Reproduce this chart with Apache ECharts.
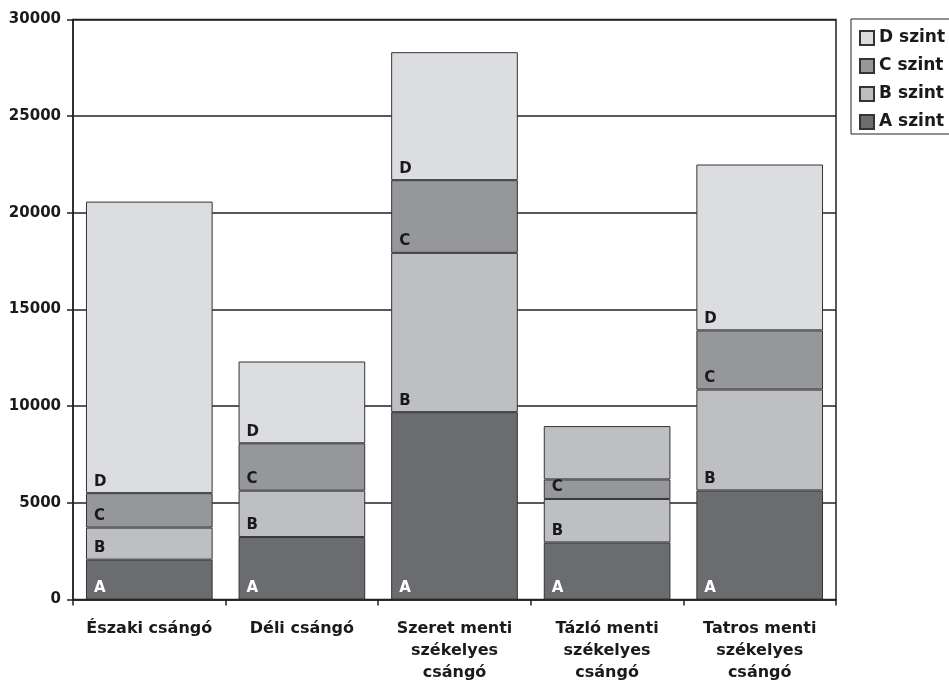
<!DOCTYPE html>
<html>
<head>
<meta charset="utf-8">
<script src="https://cdn.jsdelivr.net/npm/echarts@6/dist/echarts.min.js"></script>
<style>html,body{margin:0;padding:0;background:#fff;}#c{width:949px;height:681px;}</style>
</head>
<body>
<div id="c"></div>
<script>
const categories = ['Északi csángó', 'Déli csángó', 'Szeret menti\nszékelyes\ncsángó', 'Tázló menti\nszékelyes\ncsángó', 'Tatros menti\nszékelyes\ncsángó'];
const aValues = [2060, 3230, 9690, 2950, 5640];
const bValues = [1660, 2400, 8240, 2250, 5220];
const cValues = [1780, 2450, 3760, 1010, 3060];
const dValues = [15080, 4230, 6620, 2760, 8580];
const seriesNames = ['A szint', 'B szint', 'C szint', 'D szint'];
const segLabels = ['A', 'B', 'C', 'D'];
const yTicks = [0, 5000, 10000, 15000, 20000, 25000, 30000];

const colors = { A: '#6b6c70', B: '#bebfc3', C: '#96979b', D: '#dcdde0' };
const font = 'DejaVu Sans';

function mkSeries(idx, values, labelColor) {
  const key = segLabels[idx];
  return {
    name: seriesNames[idx],
    type: 'bar',
    stack: 'total',
    barCategoryGap: '17%',
    itemStyle: { color: colors[key], borderColor: '#333', borderWidth: 1 },
    label: {
      show: true, position: 'insideBottomLeft', formatter: key,
      color: labelColor, fontFamily: font, fontWeight: 'bold', fontSize: 15,
      distance: 6, offset: [2, 2]
    },
    emphasis: { disabled: true },
    data: values.map((v, i) => {
      // Tázló top segment drawn in lighter-mid grey, without label
      if (key === 'D' && i === 3) {
        return { value: v, itemStyle: { color: colors.B }, label: { show: false } };
      }
      return v;
    })
  };
}

const chart = echarts.init(document.getElementById('c'));
chart.setOption({
  animation: false,
  backgroundColor: '#fff',
  grid: { left: 73, right: 113, top: 19.5, bottom: 81.5, show: true, borderColor: '#222', borderWidth: 1.5,
    containLabel: false, outerBoundsMode: 'none' },
  legend: {
    data: ['D szint', 'C szint', 'B szint', 'A szint'],
    orient: 'vertical', left: 851, top: 19,
    icon: 'rect',
    itemWidth: 14, itemHeight: 14, itemGap: 8,
    padding: [9, 12, 2, 8],
    borderColor: '#222', borderWidth: 1,
    textStyle: { fontFamily: font, fontWeight: 'bold', fontSize: 17, color: '#1a1a1a', lineHeight: 20 },
    selectedMode: false
  },
  xAxis: {
    type: 'category',
    data: categories,
    axisLine: { lineStyle: { color: '#222', width: 1.5 } },
    axisTick: { show: true, length: 6, lineStyle: { color: '#222', width: 1.5 } },
    axisLabel: { fontFamily: font, fontWeight: 'bold', fontSize: 16, color: '#1a1a1a', lineHeight: 22, margin: 18, interval: 0 }
  },
  yAxis: {
    type: 'value', min: 0, max: 30000, interval: 5000,
    axisLine: { show: true, lineStyle: { color: '#222', width: 1.5 } },
    axisTick: { show: true, length: 6, lineStyle: { color: '#222', width: 1.5 } },
    splitLine: { show: true, lineStyle: { color: '#222', width: 1.5 } },
    axisLabel: { fontFamily: font, fontWeight: 'bold', fontSize: 15, color: '#1a1a1a', margin: 12,
      formatter: v => (yTicks.indexOf(v) >= 0 ? String(v) : '') }
  },
  series: [
    mkSeries(0, aValues, '#fff'),
    mkSeries(1, bValues, '#1a1a1a'),
    mkSeries(2, cValues, '#1a1a1a'),
    mkSeries(3, dValues, '#1a1a1a')
  ]
});
</script>
</body>
</html>
